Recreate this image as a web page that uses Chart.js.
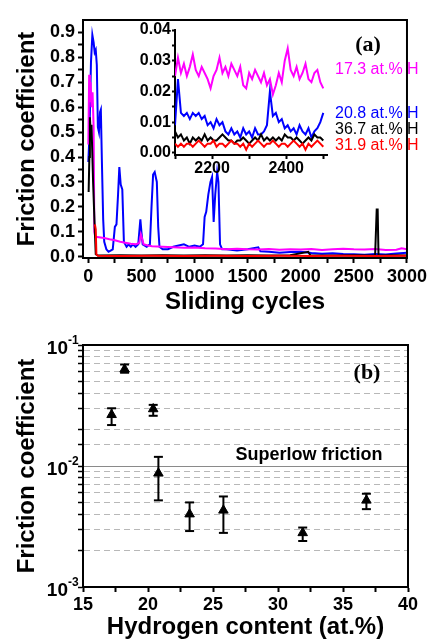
<!DOCTYPE html>
<html>
<head>
<meta charset="utf-8">
<script src="https://cdn.jsdelivr.net/npm/chart.js@4.4.0/dist/chart.umd.min.js"></script>
<style>
  html, body { margin: 0; padding: 0; background: #fff; }
  #wrap { position: relative; width: 430px; height: 639px; }
  canvas { position: absolute; }
  #chartA { left: 0; top: 0; }
  #inset { left: 95px; top: 15px; }
  #chartB { left: 0; top: 320px; }
</style>
</head>
<body>
<div id="wrap">
  <canvas id="chartA" width="430" height="320"></canvas>
  <canvas id="inset" width="240" height="170"></canvas>
  <canvas id="chartB" width="430" height="319"></canvas>
</div>
<script>
// (a) friction vs sliding cycles, [cycle, friction]
const blueSeries = [[0,0.38],[10,0.48],[25,0.78],[38,0.89],[50,0.86],[60,0.82],[70,0.83],[80,0.77],[90,0.52],[100,0.50],[110,0.58],[118,0.59],[128,0.38],[140,0.15],[150,0.06],[170,0.03],[190,0.02],[210,0.025],[230,0.03],[250,0.12],[265,0.13],[280,0.25],[292,0.36],[305,0.29],[320,0.27],[335,0.06],[360,0.04],[380,0.05],[400,0.04],[420,0.05],[445,0.04],[470,0.05],[490,0.15],[500,0.10],[512,0.05],[550,0.04],[580,0.05],[595,0.20],[610,0.33],[625,0.34],[645,0.30],[658,0.12],[670,0.04],[700,0.03],[750,0.03],[800,0.04],[850,0.045],[900,0.05],[950,0.04],[1000,0.045],[1050,0.04],[1080,0.05],[1095,0.16],[1110,0.18],[1130,0.25],[1150,0.30],[1165,0.32],[1180,0.14],[1195,0.25],[1213,0.34],[1225,0.30],[1240,0.05],[1260,0.03],[1300,0.03],[1400,0.025],[1500,0.03],[1600,0.038],[1620,0.022],[1700,0.02],[1800,0.016],[1900,0.019],[2000,0.02],[2100,0.015],[2200,0.012],[2300,0.014],[2400,0.011],[2500,0.01],[2600,0.008],[2700,0.011],[2800,0.009],[2900,0.013],[3000,0.016]];
const magentaSeries = [[0,0.45],[8,0.73],[15,0.62],[22,0.70],[30,0.60],[40,0.66],[50,0.52],[57,0.10],[65,0.08],[100,0.078],[150,0.075],[200,0.07],[250,0.066],[300,0.06],[350,0.056],[400,0.052],[450,0.05],[480,0.055],[495,0.09],[505,0.075],[520,0.05],[560,0.045],[600,0.042],[700,0.04],[800,0.038],[900,0.036],[1000,0.037],[1100,0.034],[1200,0.033],[1300,0.03],[1400,0.032],[1500,0.03],[1600,0.029],[1700,0.031],[1800,0.028],[1900,0.03],[2000,0.029],[2100,0.031],[2200,0.027],[2300,0.03],[2400,0.032],[2500,0.03],[2600,0.029],[2700,0.031],[2800,0.027],[2900,0.028],[2950,0.034],[3000,0.03]];
const blackSeries = [[3,0.26],[10,0.40],[15,0.56],[22,0.50],[30,0.53],[45,0.30],[60,0.12],[70,0.01],[90,0.005],[300,0.006],[500,0.005],[700,0.006],[900,0.005],[1100,0.006],[1300,0.005],[1500,0.006],[1700,0.005],[1900,0.006],[2070,0.02],[2090,0.006],[2300,0.005],[2500,0.006],[2700,0.005],[2715,0.19],[2724,0.19],[2732,0.005],[2900,0.006],[3000,0.005]];
const redSeries = [[62,0.13],[70,0.11],[76,0.01],[90,0.004],[300,0.003],[600,0.004],[900,0.003],[1200,0.004],[1500,0.003],[1800,0.004],[2100,0.003],[2400,0.004],[2700,0.003],[3000,0.004]];
const cycleTicks = [0,250,500,750,1000,1250,1500,1750,2000,2250,2500,2750,3000];
const frictionTicks = [0,0.05,0.1,0.15,0.2,0.25,0.3,0.35,0.4,0.45,0.5,0.55,0.6,0.65,0.7,0.75,0.8,0.85,0.9];

// inset, cycles 2100-2500
const insetCycles = [2100,2108,2116,2124,2132,2140,2148,2156,2164,2172,2180,2188,2196,2204,2212,2220,2228,2236,2244,2252,2260,2268,2276,2284,2292,2300,2308,2316,2324,2332,2340,2348,2356,2364,2372,2380,2388,2396,2404,2412,2420,2428,2436,2444,2452,2460,2468,2476,2484,2492,2500];
const insetMagenta = [0.025,0.031,0.026,0.029,0.025,0.028,0.032,0.027,0.025,0.028,
  0.026,0.024,0.021,0.025,0.027,0.031,0.026,0.028,0.025,0.029,
  0.027,0.025,0.028,0.022,0.021,0.026,0.024,0.027,0.025,0.023,
  0.026,0.022,0.024,0.019,0.022,0.026,0.023,0.030,0.034,0.027,
  0.025,0.028,0.024,0.026,0.029,0.024,0.023,0.026,0.027,0.023,0.021];
const insetBlue = [0.009,0.024,0.013,0.012,0.013,0.011,0.013,0.012,0.013,0.011,
  0.012,0.009,0.010,0.008,0.011,0.009,0.010,0.007,0.006,0.008,
  0.006,0.007,0.005,0.008,0.006,0.007,0.005,0.008,0.006,0.006,
  0.007,0.009,0.020,0.012,0.013,0.010,0.011,0.008,0.009,0.007,
  0.008,0.006,0.009,0.007,0.006,0.008,0.005,0.007,0.008,0.010,0.013];
const insetBlack = [0.007,0.005,0.006,0.004,0.005,0.003,0.005,0.004,0.005,0.004,
  0.006,0.004,0.005,0.004,0.004,0.005,0.006,0.005,0.004,0.004,
  0.003,0.004,0.004,0.005,0.004,0.003,0.004,0.005,0.004,0.006,
  0.004,0.005,0.004,0.005,0.004,0.005,0.004,0.006,0.005,0.005,
  0.004,0.005,0.004,0.003,0.004,0.005,0.004,0.006,0.005,0.005,0.004];
const insetRed = [0.003,0.002,0.003,0.002,0.003,0.003,0.002,0.003,0.004,0.003,
  0.002,0.003,0.003,0.004,0.002,0.003,0.003,0.002,0.003,0.004,
  0.003,0.003,0.002,0.003,0.001,0.003,0.002,0.003,0.004,0.003,
  0.002,0.003,0.003,0.004,0.003,0.002,0.003,0.003,0.002,0.003,
  0.004,0.003,0.002,0.003,0.001,0.003,0.002,0.003,0.004,0.003,0.002];
const insetCycleTicks = [2100,2200,2300,2400,2500];
const insetFrictionTicks = [0,0.005,0.01,0.015,0.02,0.025,0.03,0.035,0.04];

const seriesLabels = ['17.3 at.% H', '20.8 at.% H', '36.7 at.% H', '31.9 at.% H'];
const seriesColors = ['#ff00ff', '#0000ff', '#000000', '#ff0000'];

// (b) friction vs hydrogen content
const hydrogen = [17.2, 18.2, 20.4, 20.8, 23.2, 25.8, 31.9, 36.8];
const friction = [0.0265, 0.063, 0.0296, 0.0087, 0.0040, 0.0043, 0.0028, 0.0052];
const errLow = [0.0218, 0.059, 0.026, 0.0052, 0.0029, 0.0028, 0.0024, 0.0044];
const errHigh = [0.030, 0.069, 0.032, 0.0119, 0.0050, 0.0056, 0.0031, 0.0059];
const decades = [0.001, 0.01, 0.1];

const SANS = "'Liberation Sans', Arial, sans-serif";
const SERIF = "'Liberation Serif', 'Times New Roman', serif";
const pts = s => s.map(([x, y]) => ({ x, y }));
const near = (v, step) => Math.abs(v / step - Math.round(v / step)) < 1e-6;
const fixTicks = list => s => { s.ticks = list.map(v => ({ value: v })); };

// box round the plot area
const frame = {
  id: 'frame',
  afterDraw(chart) {
    const { ctx, chartArea: a } = chart;
    ctx.save();
    ctx.strokeStyle = '#000';
    ctx.lineWidth = 2;
    ctx.strokeRect(a.left, a.top, a.right - a.left, a.bottom - a.top);
    ctx.restore();
  }
};

// free text on the canvas
const notes = {
  id: 'notes',
  afterDraw(chart, args, opts) {
    const { ctx } = chart;
    ctx.save();
    (opts.items || []).forEach(n => {
      ctx.font = n.font;
      ctx.fillStyle = n.color || '#000';
      ctx.textAlign = n.align || 'left';
      ctx.textBaseline = 'middle';
      ctx.fillText(n.text, n.x, n.y);
    });
    ctx.restore();
  }
};

const tickFont = { family: SANS, size: 18, weight: 'bold' };
const titleFont = { family: SANS, size: 24, weight: 'bold', lineHeight: 1 };

new Chart(document.getElementById('chartA'), {
  type: 'line',
  data: {
    datasets: [
      { data: pts(redSeries), borderColor: seriesColors[3] },
      { data: pts(blackSeries), borderColor: seriesColors[2] },
      { data: pts(magentaSeries), borderColor: seriesColors[0] },
      { data: pts(blueSeries), borderColor: seriesColors[1] }
    ]
  },
  options: {
    responsive: false,
    animation: false,
    events: [],
    parsing: false,
    elements: { line: { borderWidth: 2, tension: 0 }, point: { radius: 0 } },
    layout: { padding: { top: 20, right: 23, left: 0, bottom: 0 } },
    scales: {
      x: {
        type: 'linear', min: -50, max: 3000,
        afterBuildTicks: fixTicks(cycleTicks),
        afterFit: s => { s.height = 62; },
        grid: { drawOnChartArea: false, tickLength: 5, tickColor: '#000', tickWidth: 2 },
        border: { color: '#000', width: 2 },
        ticks: { autoSkip: false, padding: 3, color: '#000', font: tickFont, maxRotation: 0,
          callback: v => near(v, 500) ? String(v) : '' },
        title: { display: true, text: 'Sliding cycles', color: '#000', font: titleFont, padding: { bottom: 6 } }
      },
      y: {
        min: -0.005, max: 0.95,
        afterBuildTicks: fixTicks(frictionTicks),
        afterFit: s => { s.width = 83; },
        grid: { drawOnChartArea: false, tickLength: 5, tickColor: '#000', tickWidth: 2 },
        border: { color: '#000', width: 2 },
        ticks: { autoSkip: false, padding: 3, color: '#000', font: tickFont,
          callback: v => near(v, 0.1) ? v.toFixed(1) : '' },
        title: { display: true, text: 'Friction coefficient', color: '#000', font: titleFont, padding: { top: 15 } }
      }
    },
    plugins: {
      legend: { display: false },
      tooltip: { enabled: false },
      notes: {
        items: [
          { text: '(a)', x: 368, y: 45, align: 'center', font: 'bold 22px ' + SERIF },
          { text: seriesLabels[0], x: 335, y: 70, color: seriesColors[0], font: '16px ' + SANS },
          { text: seriesLabels[1], x: 335, y: 114, color: seriesColors[1], font: '16px ' + SANS },
          { text: seriesLabels[2], x: 335, y: 130, color: seriesColors[2], font: '16px ' + SANS },
          { text: seriesLabels[3], x: 335, y: 146, color: seriesColors[3], font: '16px ' + SANS }
        ]
      }
    }
  },
  plugins: [frame, notes]
});

const insetPts = vals => insetCycles.map((c, i) => ({ x: c, y: vals[i] }));
const insetTick = { family: SANS, size: 16, weight: 'bold' };

new Chart(document.getElementById('inset'), {
  type: 'line',
  data: {
    datasets: [
      { data: insetPts(insetRed), borderColor: seriesColors[3] },
      { data: insetPts(insetBlack), borderColor: seriesColors[2] },
      { data: insetPts(insetBlue), borderColor: seriesColors[1] },
      { data: insetPts(insetMagenta), borderColor: seriesColors[0] }
    ]
  },
  options: {
    responsive: false,
    animation: false,
    events: [],
    parsing: false,
    elements: { line: { borderWidth: 2, tension: 0 }, point: { radius: 0 } },
    layout: { padding: { top: 15, right: 8, left: 0, bottom: 0 } },
    scales: {
      x: {
        type: 'linear', min: 2100, max: 2510,
        afterBuildTicks: fixTicks(insetCycleTicks),
        afterFit: s => { s.height = 30; },
        grid: { drawOnChartArea: false, tickLength: 4, tickColor: '#000', tickWidth: 2 },
        border: { color: '#000', width: 2 },
        ticks: { autoSkip: false, padding: 0, color: '#000', font: insetTick, maxRotation: 0,
          callback: v => (v === 2200 || v === 2400) ? String(v) : '' }
      },
      y: {
        min: -0.0007, max: 0.04,
        afterBuildTicks: fixTicks(insetFrictionTicks),
        afterFit: s => { s.width = 80; },
        grid: { drawOnChartArea: false, tickLength: 3, tickColor: '#000', tickWidth: 2 },
        border: { color: '#000', width: 2 },
        ticks: { autoSkip: false, padding: 1, color: '#000', font: insetTick,
          callback: v => near(v, 0.01) ? v.toFixed(2) : '' }
      }
    },
    plugins: { legend: { display: false }, tooltip: { enabled: false } }
  }
});

const errorBars = hydrogen.map((h, i) => ({
  data: [{ x: h, y: errLow[i] }, { x: h, y: errHigh[i] }],
  showLine: true,
  borderColor: '#000',
  borderWidth: 2,
  pointStyle: 'line',
  pointRadius: 4.5,
  pointBorderWidth: 2,
  pointBorderColor: '#000'
}));

const isDecade = v => Math.abs(Math.log10(v) - Math.round(Math.log10(v))) < 1e-6;

// 10 with a raised exponent at each decade
const powerLabels = {
  id: 'powerLabels',
  afterDraw(chart) {
    const { ctx, scales: { y } } = chart;
    ctx.save();
    ctx.fillStyle = '#000';
    ctx.textBaseline = 'middle';
    decades.forEach(v => {
      const py = y.getPixelForValue(v);
      ctx.font = 'bold 19px ' + SANS;
      ctx.textAlign = 'right';
      ctx.fillText('10', 68, py + 4);
      ctx.font = 'bold 12px ' + SANS;
      ctx.textAlign = 'left';
      ctx.fillText(String(Math.round(Math.log10(v))), 68, py - 4);
    });
    ctx.restore();
  }
};

new Chart(document.getElementById('chartB'), {
  type: 'scatter',
  data: {
    datasets: [
      { data: hydrogen.map((h, i) => ({ x: h, y: friction[i] })), pointStyle: 'triangle', pointRadius: 5.5,
        backgroundColor: '#000', borderColor: '#000', pointBorderWidth: 1 },
      ...errorBars
    ]
  },
  options: {
    responsive: false,
    animation: false,
    events: [],
    parsing: false,
    layout: { padding: { top: 25, right: 22, left: 0, bottom: 0 } },
    scales: {
      x: {
        type: 'linear', min: 15, max: 40,
        afterFit: s => { s.height = 52; },
        grid: { drawOnChartArea: false, tickLength: 5, tickColor: '#000', tickWidth: 2 },
        border: { color: '#000', width: 2 },
        ticks: { stepSize: 2.5, autoSkip: false, padding: 2, color: '#000', font: { family: SANS, size: 18, weight: 'bold' }, maxRotation: 0,
          callback: v => near(v, 5) ? String(v) : '' },
        title: { display: true, text: 'Hydrogen content (at.%)', color: '#000', font: titleFont, padding: { bottom: 0 } }
      },
      y: {
        type: 'logarithmic', min: 0.001, max: 0.1,
        afterFit: s => { s.width = 83; },
        grid: {
          tickLength: 5, tickColor: '#000', tickWidth: 1.5, lineWidth: 1,
          color: c => {
            const v = c.tick && c.tick.value;
            if (!v || v <= 0.001 || v >= 0.1) return 'rgba(0,0,0,0)';
            return Math.abs(v - 0.01) < 1e-9 ? '#8a8a8a' : '#b8b8b8';
          }
        },
        border: { color: '#000', width: 2, dash: c => (c.tick && isDecade(c.tick.value)) ? [] : [6, 4] },
        ticks: { color: '#000', autoSkip: false, padding: 2, font: { family: SANS, size: 18, weight: 'bold' }, callback: () => '' },
        title: { display: true, text: 'Friction coefficient', color: '#000', font: titleFont, padding: { top: 15 } }
      }
    },
    plugins: {
      legend: { display: false },
      tooltip: { enabled: false },
      notes: {
        items: [
          { text: '(b)', x: 367, y: 53, align: 'center', font: 'bold 22px ' + SERIF },
          { text: 'Superlow friction', x: 309, y: 135, align: 'center', font: 'bold 18px ' + SANS }
        ]
      }
    }
  },
  plugins: [frame, notes, powerLabels]
});
</script>
</body>
</html>
